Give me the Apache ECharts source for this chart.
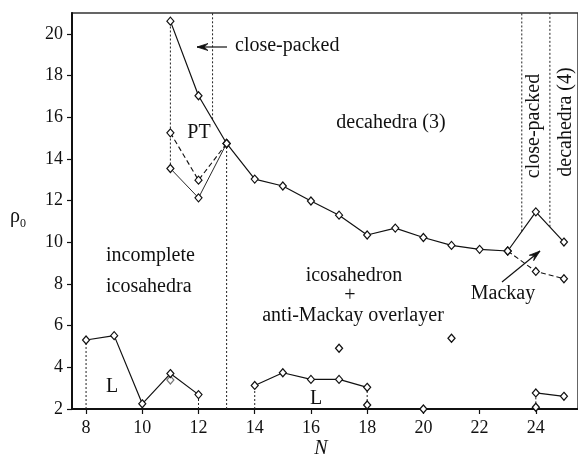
<!DOCTYPE html>
<html>
<head>
<meta charset="utf-8">
<script src="https://cdn.jsdelivr.net/npm/echarts@6/dist/echarts.min.js"></script>
<style>html,body{margin:0;padding:0;background:#fff}#c{width:578px;height:463px}</style>
</head>
<body>
<div id="c"></div>
<script>
// ---- data ----
var xTicks = [8, 10, 12, 14, 16, 18, 20, 22, 24];
var yTicks = [2, 4, 6, 8, 10, 12, 14, 16, 18, 20];

var mainN   = [11, 12, 13, 14, 15, 16, 17, 18, 19, 20, 21, 22, 23, 24, 25];
var mainRho = [20.61, 17.03, 14.74, 13.03, 12.70, 11.98, 11.30, 10.35, 10.68, 10.23, 9.85, 9.66, 9.58, 11.46, 10.01];

var mackayN   = [23, 24, 25];
var mackayRho = [9.58, 8.60, 8.25];

var ptDashN   = [11, 12, 13];
var ptDashRho = [15.25, 12.98, 14.74];
var ptSolidN   = [11, 12, 13];
var ptSolidRho = [13.54, 12.13, 14.74];

var lowAN   = [8, 9, 10, 11, 12];
var lowARho = [5.31, 5.52, 2.25, 3.70, 2.69];
var lowBN   = [14, 15, 16, 17, 18];
var lowBRho = [3.13, 3.74, 3.42, 3.42, 3.04];
var lowCN   = [24, 25];
var lowCRho = [2.77, 2.61];

var isoN   = [17, 21, 18, 20, 24];
var isoRho = [4.91, 5.39, 2.19, 2.00, 2.08];
var greyN   = [11];
var greyRho = [3.39];

// dotted guide segments: x, yFrom, yTo
var guideX    = [8, 12, 11, 11, 12.5, 13, 14, 18, 23.5, 24.5, 24];
var guideFrom = [2, 2, 3.39, 13.54, 15.9, 2, 2, 2, 10.52, 10.74, 2.08];
var guideTo   = [5.31, 2.69, 3.70, 20.61, 21, 14.74, 3.13, 3.04, 21, 21, 2.77];

function zip(a, b) { return a.map(function (v, i) { return [v, b[i]]; }); }

var FONT = '"Liberation Serif", "DejaVu Serif", serif';
var INK = '#111';

function lineSeries(xs, ys, type, width, z) {
  return {
    type: 'line', data: zip(xs, ys), clip: false, z: z || 3,
    symbol: 'diamond', symbolSize: [7, 8], showSymbol: true,
    lineStyle: { color: INK, width: width, type: type },
    itemStyle: { color: '#fff', borderColor: INK, borderWidth: 1.2, opacity: 1 },
    emphasis: { disabled: true }
  };
}

var series = [];
guideX.forEach(function (x, i) {
  series.push({
    type: 'line', data: [[x, guideFrom[i]], [x, guideTo[i]]], symbol: 'none', clip: false, z: 1,
    lineStyle: { color: '#222', width: 1, type: [2, 2] }, emphasis: { disabled: true }
  });
});
series.push(lineSeries(mainN, mainRho, 'solid', 1.2));
series.push(lineSeries(mackayN, mackayRho, [5, 3], 1.1));
series.push(lineSeries(ptDashN, ptDashRho, [5, 3], 1.1));
series.push(lineSeries(ptSolidN, ptSolidRho, 'solid', 0.9));
series.push(lineSeries(lowAN, lowARho, 'solid', 1.2));
series.push(lineSeries(lowBN, lowBRho, 'solid', 1.2));
series.push(lineSeries(lowCN, lowCRho, 'solid', 1.2));
series.push({
  type: 'scatter', data: zip(isoN, isoRho), clip: false, z: 4,
  symbol: 'diamond', symbolSize: [7, 8],
  itemStyle: { color: '#fff', borderColor: INK, borderWidth: 1.3, opacity: 1 }, emphasis: { disabled: true }
});
series.push({
  type: 'scatter', data: zip(greyN, greyRho), clip: false, z: 2,
  symbol: 'diamond', symbolSize: [7, 8],
  itemStyle: { color: '#fff', borderColor: '#777', borderWidth: 1.2, opacity: 1 }, emphasis: { disabled: true }
});

function txt(x, y, s, opts) {
  opts = opts || {};
  return {
    type: 'text', x: x, y: y, rotation: opts.rot || 0, z: 10,
    style: {
      text: s, font: (opts.style || '') + ' ' + (opts.size || 20) + 'px ' + FONT, fill: INK,
      align: opts.align || 'center', verticalAlign: 'middle'
    }
  };
}
function arrow(x1, y1, x2, y2) {
  var dx = x2 - x1, dy = y2 - y1, L = Math.sqrt(dx * dx + dy * dy);
  var ux = dx / L, uy = dy / L, px = -uy, py = ux;
  var bx = x2 - 11 * ux, by = y2 - 11 * uy;
  return [
    { type: 'line', z: 10, shape: { x1: x1, y1: y1, x2: x2, y2: y2 }, style: { stroke: INK, lineWidth: 1.2 } },
    { type: 'polygon', z: 10, shape: { points: [[x2, y2], [bx + 3.5 * px, by + 3.5 * py], [x2 - 7 * ux, y2 - 7 * uy], [bx - 3.5 * px, by - 3.5 * py]] },
      style: { fill: INK, stroke: INK, lineWidth: 0.8 } }
  ];
}

var graphics = [
  txt(235, 46, 'close-packed', { align: 'left' }),
  txt(199, 133, 'PT'),
  txt(391, 123, 'decahedra (3)'),
  txt(106, 256, 'incomplete', { align: 'left' }),
  txt(106, 287, 'icosahedra', { align: 'left' }),
  txt(354, 276, 'icosahedron'),
  txt(350, 296, '+'),
  txt(353, 316, 'anti-Mackay overlayer'),
  txt(503, 294, 'Mackay'),
  txt(112, 387, 'L'),
  txt(316, 399, 'L'),
  txt(534, 126, 'close-packed', { rot: Math.PI / 2 }),
  txt(566, 122, 'decahedra (4)', { rot: Math.PI / 2 }),
  txt(321, 449, 'N', { style: 'italic' }),
  txt(10, 217, 'ρ', { align: 'left' }),
  txt(20, 224, '0', { align: 'left', size: 12 })
].concat(arrow(227, 47, 197, 47)).concat(arrow(502, 282, 540, 251));

var chart = echarts.init(document.getElementById('c'), null, { renderer: 'canvas' });
chart.setOption({
  animation: false,
  backgroundColor: '#fff',
  grid: { left: 72, top: 13, width: 508, height: 396, show: true, borderColor: '#333', borderWidth: 1.5, backgroundColor: 'transparent' },
  xAxis: {
    type: 'value', min: 7.5, max: 25.5,
    splitLine: { show: false },
    axisLine: { show: true, lineStyle: { color: INK, width: 2 } },
    axisTick: { show: true, length: 5, inside: false, customValues: xTicks, lineStyle: { color: INK, width: 1.2 } },
    axisLabel: { customValues: xTicks, margin: 10, color: INK, fontFamily: FONT, fontSize: 18 }
  },
  yAxis: {
    type: 'value', min: 2, max: 21,
    splitLine: { show: false },
    axisLine: { show: true, lineStyle: { color: INK, width: 2 } },
    axisTick: { show: true, length: 5, inside: false, customValues: yTicks, lineStyle: { color: INK, width: 1.2 } },
    axisLabel: { customValues: yTicks, margin: 9, color: INK, fontFamily: FONT, fontSize: 18 }
  },
  series: series,
  graphic: graphics
});
</script>
</body>
</html>
